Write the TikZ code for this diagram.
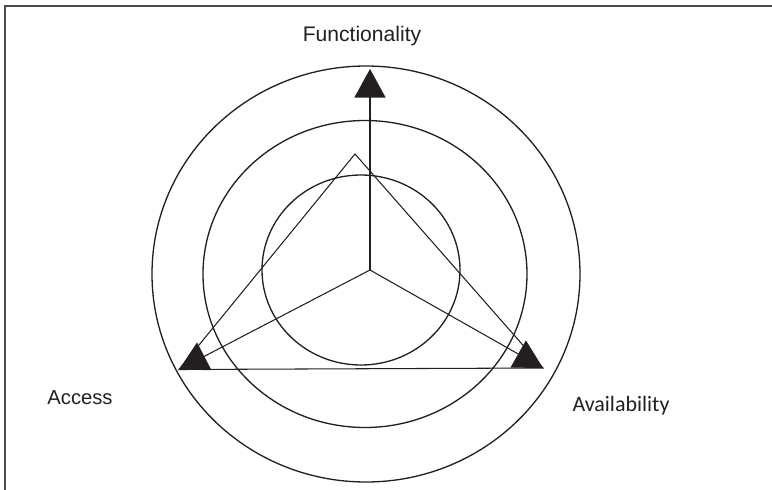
\documentclass[tikz,border=0pt]{standalone}
\usepackage{fontspec}
\setmainfont{Liberation Sans}
\newfontfamily\carlito{Carlito}
\usepackage{tikz}
\usetikzlibrary{arrows.meta,positioning,calc}
\definecolor{Ink}{HTML}{231F20}
\definecolor{Frame}{HTML}{4A4A4A}
\tikzset{
  ring/.style={draw=Ink,line width=.75pt},
  spoke/.style={draw=Ink,line width=.6pt,-{Triangle[length=5.7mm,width=6.2mm]}},
  edge/.style={draw=Ink,line width=.6pt},
  axislabel/.style={font=\fontsize{12}{14}\selectfont,text=Ink,inner sep=0pt}
}
\begin{document}
\begin{tikzpicture}
  \useasboundingbox (-7.40,-4.38) rectangle (8.04,5.40);
  % frame
  \draw[Frame,line width=.9pt] (-7.30,-4.40) -- (-7.30,5.28) -- (8.10,5.28);
  % rings
  \draw[ring] (-0.18,0) circle [x radius=1.98,y radius=1.90];
  \draw[ring] (-0.10,-0.08) circle [x radius=3.24,y radius=3.07];
  \draw[ring] (-0.08,-0.08) circle [x radius=4.28,y radius=4.16];
  % points
  \coordinate (hub) at (0,0);
  \coordinate (apex) at (-0.30,2.32);
  \coordinate (fTip) at (0,4.02);
  \coordinate (aTip) at (-3.82,-1.99);
  \coordinate (vTip) at (3.46,-1.96);
  % triangle
  \draw[edge] (apex) -- (aTip) -- (vTip) -- cycle;
  % spokes
  \draw[spoke] (hub) -- (fTip);
  \draw[spoke] (hub) -- (aTip);
  \draw[spoke] (hub) -- (vTip);
  % labels
  \node[axislabel] (func) at (-0.16,4.68) {Functionality};
  \node[axislabel,font=\fontsize{11.5}{14}\selectfont] (acc) at (-5.80,-2.56) {Access};
  \node[axislabel,font=\carlito\fontsize{12.5}{14}\selectfont] (avail) at (5.02,-2.72) {Availability};
\end{tikzpicture}
\end{document}
